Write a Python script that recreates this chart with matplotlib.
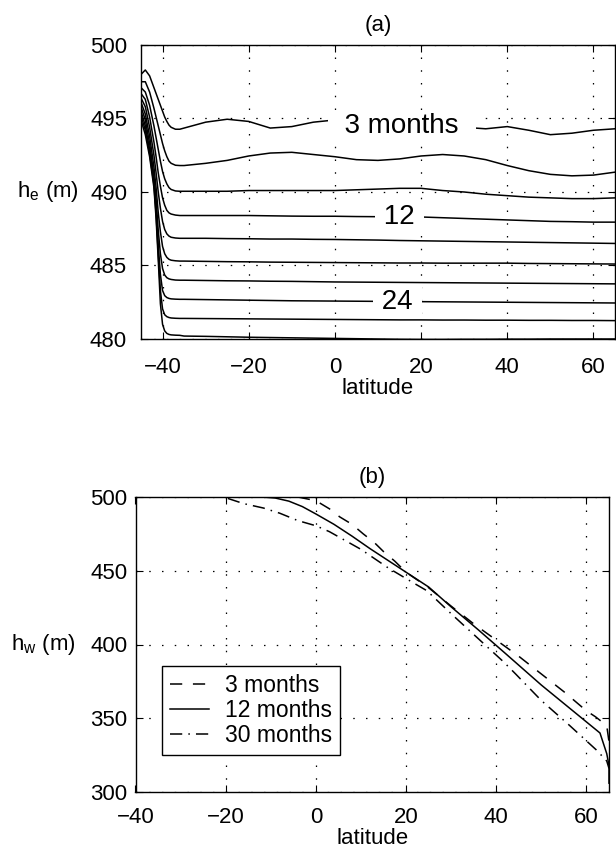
import numpy as np
import matplotlib.pyplot as plt

plt.rcParams['font.family'] = ['Liberation Sans', 'DejaVu Sans']
plt.rcParams['mathtext.default'] = 'regular'

# ---- panel (a): h_e vs latitude, every 3 months from 3 to 30 ----
lat_a = [-45, -44, -43, -42, -41.5, -41, -40.5, -40, -39.5, -39, -38.5, -38, -37, -36, -35,
         -30, -25, -20, -15, -10, -5, 0, 5, 10, 15, 20, 25, 30, 35, 40, 45, 50, 55, 60, 65]

he_3 = [498.0, 498.3, 497.9, 497.1, 496.7, 496.3, 495.9, 495.5, 495.1, 494.8, 494.55, 494.4,
        494.27, 494.27, 494.35,
        494.75, 494.95, 494.8, 494.35, 494.45, 494.75, 494.9, 494.8, 494.6, 494.5, 494.5,
        494.5, 494.4, 494.3, 494.45, 494.2, 493.9, 494.0, 494.2, 494.3]
he_6 = [497.5, 497.5, 496.8, 495.7, 495.1, 494.5, 493.9, 493.3, 492.8, 492.4, 492.1, 491.95,
        491.82, 491.8, 491.8,
        491.95, 492.15, 492.45, 492.65, 492.7, 492.55, 492.4, 492.2, 492.15, 492.25, 492.45,
        492.55, 492.45, 492.2, 491.8, 491.45, 491.2, 491.1, 491.15, 491.35]
he_9 = [497.1, 496.8, 495.9, 494.5, 493.7, 492.9, 492.1, 491.4, 490.9, 490.55, 490.3, 490.17,
        490.07, 490.05, 490.05,
        490.05, 490.05, 490.1, 490.1, 490.1, 490.1, 490.1, 490.15, 490.2, 490.25, 490.25,
        490.1, 490.0, 489.85, 489.75, 489.65, 489.6, 489.55, 489.55, 489.6]
he_12 = [496.7, 496.3, 495.1, 493.4, 492.4, 491.3, 490.4, 489.6, 489.1, 488.75, 488.58, 488.5,
         488.43, 488.4, 488.4,
         488.4, 488.4, 488.4, 488.38, 488.36, 488.35, 488.35, 488.33, 488.32, 488.3, 488.3,
         488.25, 488.2, 488.15, 488.1, 488.05, 488.0, 487.98, 487.95, 487.95]
he_15 = [496.4, 495.8, 494.4, 492.5, 491.3, 490.0, 488.9, 488.0, 487.45, 487.15, 487.0, 486.92,
         486.87, 486.85, 486.85,
         486.85, 486.83, 486.82, 486.8, 486.8, 486.78, 486.77, 486.75, 486.73, 486.7, 486.68,
         486.66, 486.64, 486.62, 486.6, 486.58, 486.56, 486.54, 486.52, 486.5]
he_18 = [496.1, 495.3, 493.8, 491.7, 490.3, 488.6, 487.3, 486.3, 485.8, 485.55, 485.42, 485.36,
         485.32, 485.3, 485.3,
         485.28, 485.26, 485.25, 485.23, 485.22, 485.21, 485.2, 485.19, 485.18, 485.17, 485.17,
         485.16, 485.16, 485.16, 485.16, 485.14, 485.13, 485.12, 485.11, 485.1]
he_21 = [495.8, 494.9, 493.3, 491.1, 489.5, 487.4, 485.8, 484.8, 484.35, 484.17, 484.09, 484.05,
         484.01, 484.0, 484.0,
         483.98, 483.96, 483.95, 483.93, 483.92, 483.9, 483.88, 483.87, 483.86, 483.85, 483.84,
         483.83, 483.82, 483.81, 483.8, 483.79, 483.78, 483.77, 483.76, 483.75]
he_24 = [495.5, 494.5, 492.9, 490.7, 488.9, 486.4, 484.4, 483.3, 482.95, 482.82, 482.76, 482.73,
         482.71, 482.7, 482.7,
         482.68, 482.66, 482.64, 482.62, 482.6, 482.59, 482.58, 482.57, 482.56, 482.55, 482.54,
         482.53, 482.52, 482.51, 482.5, 482.49, 482.48, 482.47, 482.46, 482.45]
he_27 = [495.2, 494.2, 492.6, 490.5, 488.5, 485.8, 483.3, 482.05, 481.65, 481.52, 481.46, 481.43,
         481.41, 481.4, 481.4,
         481.39, 481.38, 481.37, 481.36, 481.35, 481.34, 481.33, 481.32, 481.31, 481.3, 481.3,
         481.29, 481.29, 481.28, 481.28, 481.27, 481.27, 481.26, 481.26, 481.25]
he_30 = [494.9, 493.9, 492.4, 490.3, 488.2, 485.4, 482.4, 481.0, 480.55, 480.38, 480.31, 480.28,
         480.26, 480.25, 480.2,
         480.18, 480.15, 480.12, 480.1, 480.08, 480.06, 480.04, 480.02, 480.0, 479.98, 479.97,
         479.97, 479.98, 479.98, 479.99, 479.99, 480.0, 480.0, 480.0, 480.0]

he_curves = [he_3, he_6, he_9, he_12, he_15, he_18, he_21, he_24, he_27, he_30]
he_labels = {0: '3 months', 3: '12', 7: '24'}   # curve index -> inline label
label_lat = [15.5, 15.0, 14.5]

# ---- panel (b): h_w vs latitude ----
lat_3m = [-4, 0, 3, 5.3, 8, 10.5, 13, 15, 17.5, 20, 25, 30, 35, 40, 45, 50, 55, 60, 62, 64.5, 65]
hw_3m = [500, 497.5, 492, 486.5, 481.5, 475, 469, 463, 456.5, 449, 438.5, 426, 414, 403,
         392, 380, 368, 355, 351, 345, 334]
lat_12m = [-12, -9, -6, -3, 0, 4, 8, 12, 16, 20, 25, 30, 36, 42, 50, 57, 63, 64.5, 65, 65]
hw_12m = [500, 499.3, 497.2, 493.5, 488.5, 481.5, 473.5, 465, 457, 449, 439, 425.5, 410, 394,
          372.5, 355, 340, 326, 318, 306]
lat_30m = [-19.5, -16, -11.6, -8, -4, 0, 3, 10, 16, 21.5, 24.6, 30.3, 36, 41.7, 44.3, 50,
           56.3, 62.2, 64.5, 65]
hw_30m = [499, 495.5, 492.5, 489, 484, 480.5, 476.5, 464.5, 452, 442, 436.5, 420, 404, 388,
          380, 362, 345, 328.5, 321, 316]

FS = 16
grid_kw = dict(color='black', linestyle=(0, (1.2, 9)), linewidth=0.9)

fig = plt.figure(figsize=(6.16, 8.56), dpi=100)

# (a)
ax1 = fig.add_axes([141 / 616, (856 - 339) / 856, 474 / 616, 294 / 856])
for i, he in enumerate(he_curves):
    z = 2 if i in he_labels else 4
    ax1.plot(lat_a, he, color='black', linewidth=1.1, zorder=z)
for (i, txt), xl in zip(he_labels.items(), label_lat):
    yl = np.interp(xl, lat_a, he_curves[i])
    pad = '  ' if i == 0 else ' '
    ax1.text(xl, yl, pad + txt + pad, fontsize=20, ha='center', va='center', zorder=3,
             bbox=dict(boxstyle='square,pad=0.05', facecolor='white', edgecolor='none'))
ax1.set_xlim(-45, 65)
ax1.set_ylim(480, 500)
ax1.set_xticks(np.arange(-40, 61, 20))
ax1.set_yticks(np.arange(480, 501, 5))
ax1.grid(True, **grid_kw)
ax1.tick_params(direction='in', top=True, right=True, length=5, labelsize=FS)
ax1.tick_params(axis='x', pad=13)
ax1.tick_params(axis='y', pad=10)
ax1.set_xlabel('latitude', fontsize=FS, labelpad=0)
ax1.set_ylabel('$h_e$ (m)', fontsize=FS, rotation=0, ha='center', va='center')
ax1.yaxis.set_label_coords(-0.196, 0.5)
ax1.set_title('(a)', fontsize=FS, pad=10)

# (b)
ax2 = fig.add_axes([135.5 / 616, (856 - 792) / 856, 473.5 / 616, 295 / 856])
ax2.plot(lat_3m, hw_3m, color='black', linewidth=1.1, linestyle=(0, (8, 7)), label='3 months')
ax2.plot(lat_12m, hw_12m, color='black', linewidth=1.1, label='12 months')
ax2.plot(lat_30m, hw_30m, color='black', linewidth=1.1, linestyle=(0, (8, 4, 1, 4)),
         label='30 months')
ax2.set_xlim(-40, 65)
ax2.set_ylim(300, 500)
ax2.set_xticks(np.arange(-40, 61, 20))
ax2.set_yticks(np.arange(300, 501, 50))
ax2.grid(True, **grid_kw)
ax2.tick_params(direction='in', top=True, right=True, length=5, labelsize=FS)
ax2.tick_params(axis='x', pad=11)
ax2.tick_params(axis='y', pad=6)
ax2.set_xlabel('latitude', fontsize=FS, labelpad=0)
ax2.set_ylabel('$h_w$ (m)', fontsize=FS, rotation=0, ha='center', va='center')
ax2.yaxis.set_label_coords(-0.194, 0.5)
ax2.set_title('(b)', fontsize=FS, pad=10)
leg = ax2.legend(loc='lower left', bbox_to_anchor=(0.055, 0.125), borderaxespad=0,
                 fontsize=16.5, handlelength=1.7, handletextpad=0.7, labelspacing=0.1,
                 borderpad=0.35, fancybox=False, framealpha=1, edgecolor='black')
leg.get_frame().set_linewidth(1.0)

for ax in (ax1, ax2):
    for s in ax.spines.values():
        s.set_linewidth(1.0)

fig.savefig('out.png', dpi=100)
